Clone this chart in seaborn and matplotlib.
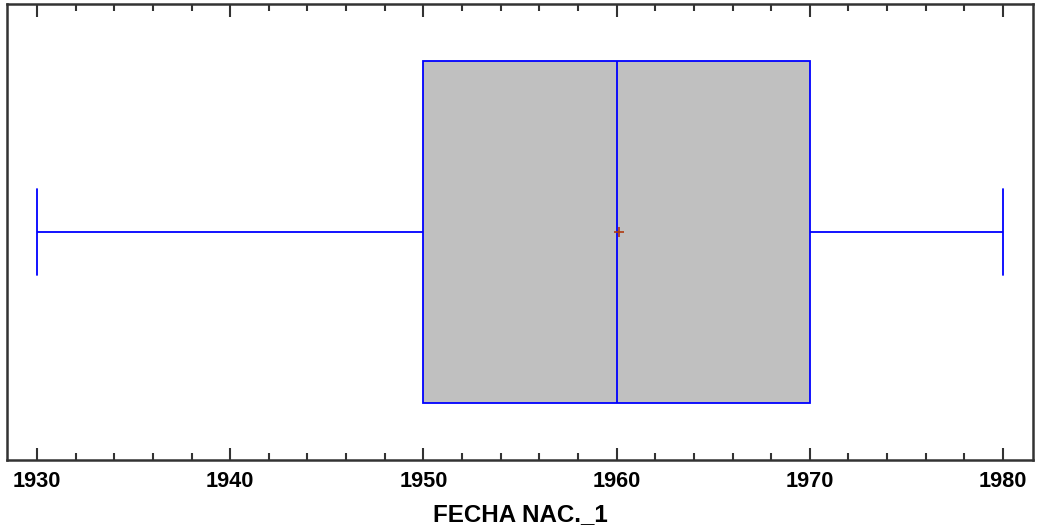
import matplotlib
matplotlib.use("Agg")
import matplotlib.pyplot as plt
from matplotlib.ticker import MultipleLocator
import seaborn as sns
import pandas as pd

# Birth years (FECHA NAC._1)
birth_years = [1930, 1950, 1950, 1958, 1960, 1967, 1970, 1976, 1980]
var_name = "FECHA NAC._1"
tick_values = [1930, 1940, 1950, 1960, 1970, 1980]

df = pd.DataFrame({var_name: birth_years})

sns.set_theme(style="white")
plt.rcParams['font.family'] = ['Liberation Sans', 'DejaVu Sans']

fig = plt.figure(figsize=(10.37, 5.31), dpi=100)
ax = fig.add_axes([7/1037, 71/531, 1026/1037, 456/531])

blue = "#0000FF"
sns.boxplot(
    data=df, x=var_name, ax=ax, orient="h", width=0.75,
    color="#C0C0C0", saturation=1, linecolor=blue, linewidth=1.3,
    whis=(0, 100), showmeans=True,
    meanprops=dict(marker="+", markeredgecolor="#B03A10", markersize=7, markeredgewidth=1.2),
    capwidths=0.19,
)
for p in ax.patches:
    p.set_facecolor("#C0C0C0")
    p.set_edgecolor(blue)

ax.set_xlim(1928.45, 1981.55)
ax.set_ylim(0.5, -0.5)
ax.set_yticks([])
ax.xaxis.set_major_locator(MultipleLocator(10))
ax.xaxis.set_minor_locator(MultipleLocator(2))
ax.set_xticks(tick_values)
ax.tick_params(axis="x", which="major", direction="in", length=9, width=1.5,
               color="#333333", top=True, bottom=True, labelsize=15.7, pad=8,
               labelcolor="black")
ax.tick_params(axis="x", which="minor", direction="in", length=5, width=1.5,
               color="#333333", top=True, bottom=True)
for lbl in ax.get_xticklabels():
    lbl.set_fontweight("bold")
ax.set_xlabel(var_name, fontsize=17.4, fontweight="bold", labelpad=8, color="black")
ax.set_ylabel("")
for s in ax.spines.values():
    s.set_visible(True)
    s.set_color("#333333")
    s.set_linewidth(1.8)

fig.savefig("out.png", dpi=100)
